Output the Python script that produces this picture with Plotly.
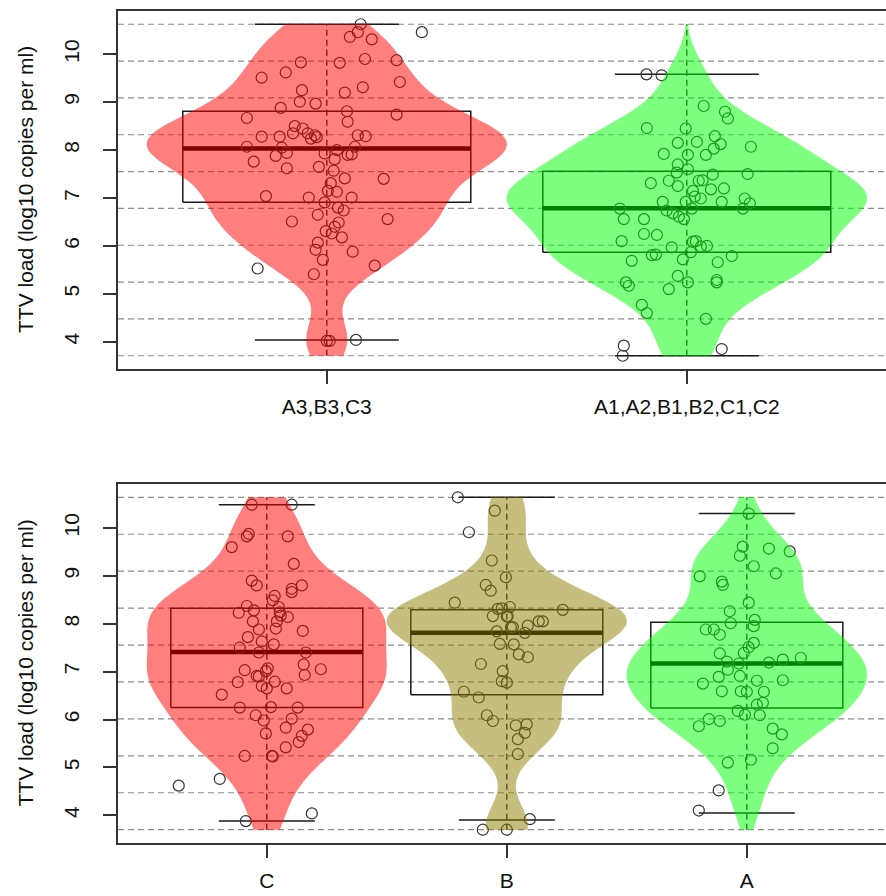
import numpy as np
import plotly.graph_objects as go

# ---------------- data ----------------
top_labels = ["A3,B3,C3", "A1,A2,B1,B2,C1,C2"]
bottom_labels = ["C", "B", "A"]

# top panel, group 1 (A3,B3,C3)
top1_vals = [10.625, 10.46, 10.36, 10.31, 10.46, 9.83, 9.82, 9.90, 9.875, 9.51, 9.62, 9.42,
             9.25, 9.20, 9.31, 9.01, 8.97, 8.88, 8.81, 8.59, 8.74, 8.67, 8.50, 8.45, 8.35,
             8.28, 8.28, 8.35, 8.31, 8.24, 8.27, 8.31, 8.29, 8.07, 7.94, 7.88, 8.05, 7.76,
             7.62, 7.93, 8.00, 7.81, 7.90, 7.91, 8.07, 7.65, 7.57, 7.41, 7.40, 7.31, 7.15,
             7.13, 7.04, 7.01, 7.01, 6.91, 6.80, 6.74, 6.65, 6.51, 6.56, 6.49, 6.40, 6.31,
             6.26, 6.18, 6.07, 5.92, 5.88, 5.71, 5.59, 5.53, 5.41, 4.02, 4.02, 4.04]
top1_jit = [0.094, 0.086, 0.064, 0.125, 0.264, -0.072, 0.036, 0.106, 0.194, -0.181, -0.114, 0.203,
            -0.069, 0.05, 0.10, -0.075, -0.031, -0.128, 0.056, 0.058, 0.194, -0.222, -0.089, -0.067, -0.094,
            -0.181, -0.131, -0.053, -0.033, -0.044, -0.028, 0.086, 0.108, -0.222, -0.111, -0.142, -0.125, -0.203,
            -0.111, -0.006, 0.028, 0.022, 0.058, 0.069, 0.078, -0.022, 0.019, 0.05, 0.158, 0.011, 0.003,
            0.028, -0.169, -0.05, 0.069, -0.006, 0.031, 0.047, -0.025, -0.097, 0.169, 0.033, 0.022, -0.003,
            0.014, 0.042, -0.025, -0.031, 0.072, -0.011, 0.133, -0.192, -0.036, 0.0, 0.008, 0.081]
top1_box = [4.04, 6.91, 8.035, 8.81, 10.625]   # lower whisker, q1, median, q3, upper whisker

# top panel, group 2 (A1,A2,B1,B2,C1,C2)
top2_vals = [9.58, 9.56, 8.92, 8.80, 8.66, 8.46, 8.45, 8.29, 8.15, 8.17, 8.125, 8.03, 8.07,
             7.92, 7.90, 7.90, 7.70, 7.60, 7.53, 7.49, 7.50, 7.31, 7.36, 7.25, 7.36, 7.37,
             7.20, 7.18, 7.15, 7.03, 6.99, 6.92, 6.92, 6.92, 6.99, 6.89, 6.78, 6.78, 6.74,
             6.68, 6.61, 6.56, 6.78, 6.56, 6.56, 6.25, 6.23, 6.10, 5.97, 6.09, 6.10, 5.99,
             6.00, 5.87, 5.81, 5.82, 5.69, 5.72, 5.66, 5.79, 5.375, 5.24, 5.24, 5.17, 5.10,
             5.29, 5.24, 4.77, 4.60, 4.48, 3.92, 3.71, 3.85]
top2_jit = [-0.112, -0.070, 0.047, 0.106, 0.114, -0.111, -0.003, 0.078, -0.025, 0.028, 0.094, 0.075, 0.178,
            -0.064, 0.003, 0.053, -0.025, 0.003, -0.028, 0.072, 0.169, -0.10, -0.05, -0.025, 0.033, 0.044,
            0.103, 0.067, 0.017, 0.022, 0.039, -0.067, -0.003, 0.097, 0.161, 0.175, 0.156, -0.186, -0.056,
            -0.039, -0.022, -0.008, 0.014, -0.175, -0.119, -0.119, -0.083, -0.181, -0.042, 0.017, 0.025, 0.039,
            0.056, 0.011, -0.097, -0.086, -0.153, -0.011, 0.086, 0.125, -0.025, 0.003, -0.169, -0.161, -0.05,
            0.083, 0.083, -0.125, -0.111, 0.053, -0.175, -0.178, 0.097]
top2_box = [3.71, 5.87, 6.785, 7.56, 9.58]

# bottom panel, group C
c_vals = [10.485, 10.485, 9.825, 9.875, 9.825, 9.60, 9.25, 8.90, 8.80, 8.80, 8.73, 8.66, 8.58,
          8.49, 8.35, 8.37, 8.28, 8.23, 8.24, 8.17, 8.14, 8.05, 8.05, 7.90, 7.88, 7.85, 7.72,
          7.63, 7.50, 7.57, 7.40, 7.40, 7.15, 7.05, 7.03, 7.07, 7.01, 6.91, 6.90, 6.93, 6.78,
          6.79, 6.70, 6.65, 6.65, 6.52, 6.25, 6.26, 6.25, 6.09, 5.98, 6.02, 5.83, 5.79, 5.71,
          5.66, 5.53, 5.42, 5.24, 5.24, 5.23, 4.62, 4.76, 3.88, 4.04]
c_jit = [-0.0625, 0.104, -0.083, -0.075, 0.0875, -0.146, 0.1125, -0.0625, -0.042, 0.146, 0.104, 0.104, 0.033,
         0.025, 0.05, -0.083, -0.054, -0.117, 0.054, 0.058, 0.0875, 0.042, -0.058, 0.0375, -0.033, 0.15, -0.079,
         -0.021, -0.1125, 0.029, -0.033, 0.1625, 0.154, 0.225, -0.092, 0.004, -0.004, -0.042, -0.033, 0.158, -0.121,
         0.033, -0.021, 0.0, 0.083, -0.1875, -0.1125, 0.017, 0.129, -0.046, -0.0125, 0.104, 0.079, 0.171, -0.004,
         0.146, 0.133, 0.079, -0.092, 0.021, 0.025, -0.367, -0.196, -0.0875, 0.1875]
c_box = [3.88, 6.25, 7.41, 8.325, 10.485]

# bottom panel, group B
b_vals = [10.64, 10.36, 9.91, 9.32, 8.97, 8.81, 8.69, 8.44, 8.31, 8.32, 8.35, 8.29, 8.16, 8.16,
          8.05, 8.05, 7.96, 7.93, 7.81, 7.84, 7.57, 7.58, 7.36, 7.30, 7.16, 7.01, 6.80, 6.77,
          6.58, 6.46, 6.09, 5.97, 5.88, 5.90, 5.72, 5.59, 5.28, 3.92, 3.70, 3.70, 7.92, 8.15]
b_jit = [-0.204, -0.05, -0.158, -0.0625, -0.004, -0.0875, -0.067, -0.217, -0.0375, -0.021, 0.0125, 0.233, -0.058, 0.004,
         0.133, 0.15, 0.0875, 0.025, 0.075, -0.042, 0.029, -0.029, 0.05, 0.0875, -0.108, -0.017, -0.021, 0.0,
         -0.179, -0.117, -0.083, -0.058, 0.0375, 0.083, 0.075, 0.046, 0.046, 0.096, -0.10, 0.0, 0.017, 0.0]
b_box = [3.90, 6.52, 7.81, 8.29, 10.64]

# bottom panel, group A
a_vals = [10.30, 9.61, 9.57, 9.51, 9.42, 9.20, 9.05, 8.99, 8.88, 8.81, 8.44, 8.26, 8.08, 8.01,
          7.95, 7.88, 7.88, 7.77, 7.60, 7.51, 7.39, 7.38, 7.29, 7.25, 7.19, 7.21, 7.17, 7.04,
          6.89, 6.91, 6.75, 6.81, 6.82, 6.59, 6.59, 6.58, 6.58, 6.31, 6.35, 6.18, 6.10, 6.09,
          6.01, 5.97, 5.86, 5.81, 5.69, 5.40, 5.10, 5.16, 4.52, 4.10]
a_jit = [0.008, -0.017, 0.092, 0.179, -0.029, 0.029, 0.121, -0.196, -0.104, -0.10, 0.008, -0.071, 0.033, -0.067,
         0.029, -0.171, -0.1375, -0.1125, 0.029, 0.008, -0.0125, -0.1125, 0.225, 0.15, 0.092, -0.083, -0.033, -0.079,
         -0.117, -0.029, -0.183, 0.042, 0.15, -0.104, -0.025, 0.0, 0.071, 0.042, 0.067, -0.0375, -0.008, 0.054,
         -0.158, -0.1125, -0.20, 0.108, 0.146, 0.108, -0.079, 0.017, -0.117, -0.20]
a_box = [4.05, 6.24, 7.17, 8.03, 10.30]

# ---------------- styling ----------------
RED = "rgba(255,0,0,0.5)"
GREEN = "rgba(0,255,0,0.5)"
OLIVE = "rgba(139,126,0,0.5)"
FONT = "Liberation Sans, Arial, sans-serif"

W, H = 886, 896
ML, MR, MT, MB = 118, 0, 11, 53
plot_w = W - ML - MR
plot_h = H - MT - MB

fig = go.Figure()


def add_group(xa, ya, xv, yv, pos, vals, jit, box, fill, bw, span):
    lo, q1, med, q3, hi = box
    dark = "#1a1a1a"
    # dashed vertical line over the full range
    fig.add_trace(go.Scatter(x=[pos, pos], y=list(span), mode="lines", xaxis=xa, yaxis=ya,
                             line=dict(color=dark, width=1.3, dash="6px,4px"), hoverinfo="skip"))
    # whisker caps
    for w in (lo, hi):
        fig.add_trace(go.Scatter(x=[pos - 0.2, pos + 0.2], y=[w, w], mode="lines", xaxis=xa, yaxis=ya,
                                 line=dict(color=dark, width=1.5), hoverinfo="skip"))
    # box
    fig.add_trace(go.Scatter(x=[pos - 0.4, pos + 0.4, pos + 0.4, pos - 0.4, pos - 0.4],
                             y=[q1, q1, q3, q3, q1], mode="lines", xaxis=xa, yaxis=ya,
                             line=dict(color=dark, width=1.5), hoverinfo="skip"))
    # median
    fig.add_trace(go.Scatter(x=[pos - 0.4, pos + 0.4], y=[med, med], mode="lines", xaxis=xa, yaxis=ya,
                             line=dict(color="#000000", width=4.5), hoverinfo="skip"))
    # jittered points
    fig.add_trace(go.Scatter(x=[pos + j for j in jit], y=vals, mode="markers", xaxis=xa, yaxis=ya,
                             marker=dict(symbol="circle-open", size=11, color="#333333",
                                         line=dict(width=1.2))))
    # violin drawn on the overlaying axes (on top, semi-transparent)
    fig.add_trace(go.Violin(x0=pos, y=vals, xaxis=xv, yaxis=yv, orientation="v",
                            points=False, box_visible=False, meanline_visible=False,
                            fillcolor=fill, line=dict(color="rgba(0,0,0,0)", width=0),
                            spanmode="manual", span=list(span), bandwidth=bw,
                            width=1.0, scalemode="width", hoveron="violins"))


top_all = top1_vals + top2_vals
bot_all = c_vals + b_vals + a_vals
top_span = (min(top_all), max(top_all))
bot_span = (min(bot_all), max(bot_all))

add_group("x", "y", "x3", "y3", 1, top1_vals, top1_jit, top1_box, RED, 0.5, top_span)
add_group("x", "y", "x3", "y3", 2, top2_vals, top2_jit, top2_box, GREEN, 0.47, top_span)
add_group("x2", "y2", "x4", "y4", 1, c_vals, c_jit, c_box, RED, 0.55, bot_span)
add_group("x2", "y2", "x4", "y4", 2, b_vals, b_jit, b_box, OLIVE, 0.47, bot_span)
add_group("x2", "y2", "x4", "y4", 3, a_vals, a_jit, a_box, GREEN, 0.5, bot_span)


def yr(span):
    d = span[1] - span[0]
    return [span[0] - 0.04 * d, span[1] + 0.04 * d]


top_yr = yr(top_span)
bot_yr = yr(bot_span)
top_xr = [0.42, 0.42 + plot_w / 360.0]
bot_xr = [0.38, 0.38 + plot_w / 240.0]

top_dom = [(plot_h - (369 - MT)) / plot_h, 1.0]
bot_dom = [0.0, (843 - 484) / plot_h]

# dashed horizontal reference lines
for span, yref in ((top_span, "y"), (bot_span, "y2")):
    xref = "x domain" if yref == "y" else "x2 domain"
    for g in np.linspace(span[0], span[1], 10):
        fig.add_shape(type="line", xref=xref, yref=yref, x0=0, x1=1, y0=g, y1=g,
                      line=dict(color="#8c8c8c", width=1.2, dash="6px,4px"), layer="below")

tickfont = dict(family=FONT, size=21, color="#111111")
axis_common = dict(showgrid=False, zeroline=False, showline=True, linecolor="#333333", linewidth=1.5,
                   ticks="outside", ticklen=13, tickwidth=1.5, tickcolor="#333333", tickfont=tickfont,
                   automargin=False)

fig.update_layout(
    width=W, height=H, margin=dict(l=ML, r=MR, t=MT, b=MB, autoexpand=False),
    paper_bgcolor="white", plot_bgcolor="white", showlegend=False,
    violinmode="overlay",
    xaxis=dict(domain=[0, 1], anchor="y", range=top_xr, tickmode="array", tickvals=[1, 2],
               ticktext=top_labels, mirror=True, ticklabelstandoff=5, **axis_common),
    yaxis=dict(domain=top_dom, anchor="x", range=top_yr, tickmode="array",
               tickvals=[4, 5, 6, 7, 8, 9, 10], tickangle=-90, ticklabelstandoff=16, **axis_common),
    xaxis2=dict(domain=[0, 1], anchor="y2", range=bot_xr, tickmode="array", tickvals=[1, 2, 3],
                ticktext=bottom_labels, mirror=True, ticklabelstandoff=5, **axis_common),
    yaxis2=dict(domain=bot_dom, anchor="x2", range=bot_yr, tickmode="array",
                tickvals=[4, 5, 6, 7, 8, 9, 10], tickangle=-90, ticklabelstandoff=16, **axis_common),
    xaxis3=dict(overlaying="x", anchor="y3", range=top_xr, visible=False, automargin=False),
    yaxis3=dict(overlaying="y", anchor="x3", range=top_yr, visible=False, automargin=False),
    xaxis4=dict(overlaying="x2", anchor="y4", range=bot_xr, visible=False, automargin=False),
    yaxis4=dict(overlaying="y2", anchor="x4", range=bot_yr, visible=False, automargin=False),
)

for yref in ("y domain", "y2 domain"):
    fig.add_annotation(text="TTV load (log10 copies per ml)", textangle=-90, showarrow=False,
                       xref="paper", x=(25 - ML) / plot_w, xanchor="center",
                       yref=yref, y=0.5, yanchor="middle",
                       font=dict(family=FONT, size=21, color="#111111"))

fig.write_html("out.html", config={"displayModeBar": False},
               post_script="document.body.style.margin='0px';")
